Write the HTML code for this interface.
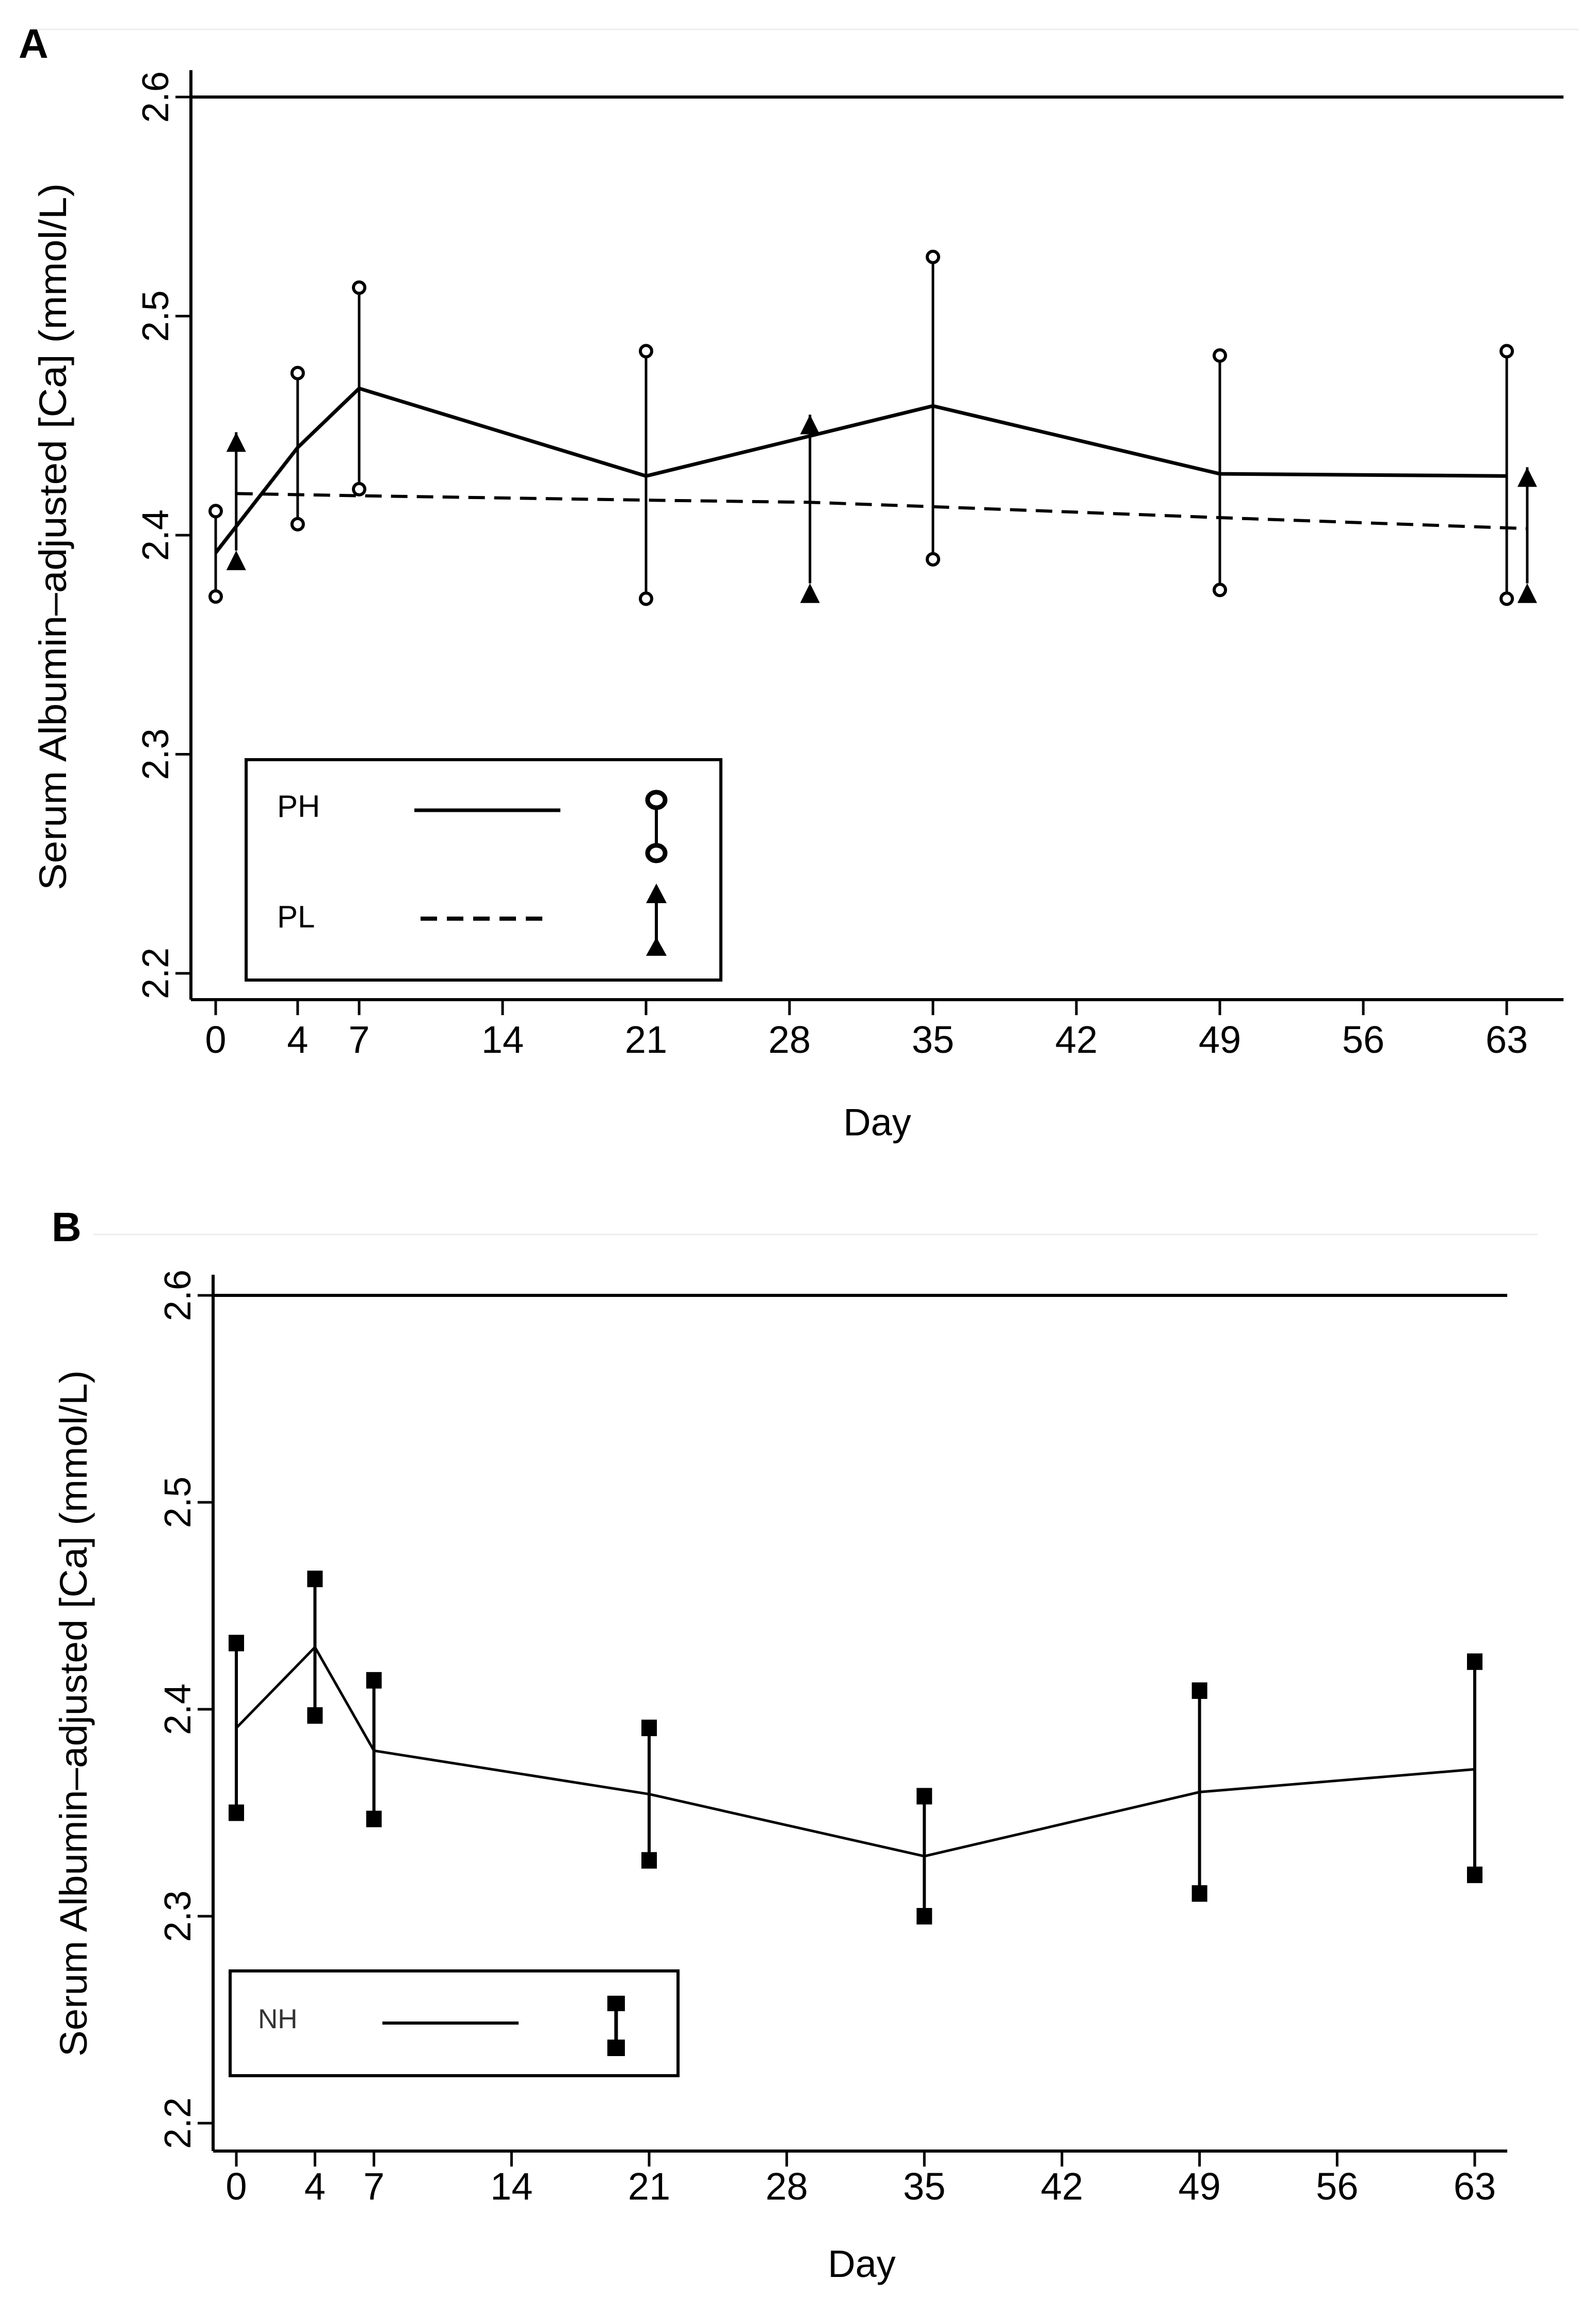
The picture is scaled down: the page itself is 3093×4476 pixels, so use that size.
<!DOCTYPE html>
<html><head><meta charset="utf-8"><style>
html,body{margin:0;padding:0;background:#fff}
svg{display:block;font-family:"Liberation Sans",Arial,sans-serif}
</style></head><body>
<svg id="c" width="3093" height="4476" viewBox="0 0 3093 4476" xmlns="http://www.w3.org/2000/svg">
<line x1="60" y1="57" x2="3060" y2="57" stroke="#eee" stroke-width="3"/>
<text x="36" y="112" font-size="80" font-weight="bold">A</text>
<line x1="180" y1="2392" x2="2980" y2="2392" stroke="#eee" stroke-width="3"/>
<text x="100" y="2405" font-size="80" font-weight="bold">B</text>
<g id="pa"></g>
<g id="pb"></g>
</svg>
<script>
const dayTicks=[0,4,7,14,21,28,35,42,49,56,63];
const yTicks=[2.2,2.3,2.4,2.5,2.6];
const refLine=2.6;
// Panel A
const phDays=[0,4,7,21,35,49,63];
const phMean=[2.392,2.440,2.467,2.427,2.459,2.428,2.427];
const phLow=[2.372,2.405,2.421,2.371,2.389,2.375,2.371];
const phHigh=[2.411,2.474,2.513,2.484,2.527,2.482,2.484];
const plDays=[1.0,7,21,29,35,49,64];
const plMean=[2.419,2.418,2.416,2.415,2.413,2.408,2.403];
const plBarDays=[1.0,29,64];
const plLow=[2.393,2.378,2.378];
const plHigh=[2.447,2.455,2.431];
// Panel B
const nhDays=[0,4,7,21,35,49,63];
const nhMean=[2.391,2.430,2.380,2.359,2.329,2.360,2.371];
const nhLow=[2.350,2.397,2.347,2.327,2.300,2.311,2.320];
const nhHigh=[2.432,2.463,2.414,2.391,2.358,2.409,2.423];

const NS='http://www.w3.org/2000/svg';
function mk(p,t,a){const e=document.createElementNS(NS,t);for(const k in a)e.setAttribute(k,a[k]);p.appendChild(e);return e;}

function panel(g,cfg){
  const X=d=>cfg.x0+(d)*(cfg.x63-cfg.x0)/63;
  const Y=v=>cfg.y22+(v-2.2)*(cfg.y26-cfg.y22)/0.4;
  let e;
  e=mk(g,'line',{x1:cfg.axL,y1:cfg.axTop,x2:cfg.axL,y2:cfg.axB,stroke:'#000','stroke-width':6});
  
  
  e=mk(g,'line',{x1:cfg.axL,y1:cfg.axB,x2:cfg.axR,y2:cfg.axB,stroke:'#000','stroke-width':6});
  
  
  yTicks.forEach(v=>{
    const y=Y(v);
    e=mk(g,'line',{x1:cfg.axL-30,y1:y,x2:cfg.axL,y2:y,stroke:'#000','stroke-width':5});
    
    
    e=mk(g,'text',{x:0,y:0,'font-size':72,'text-anchor':'middle',transform:`translate(${cfg.axL-44},${y}) rotate(-90)`});
    e.textContent=v.toFixed(1);
    
    
  });
  dayTicks.forEach(d=>{
    const x=X(d);
    e=mk(g,'line',{x1:x,y1:cfg.axB,x2:x,y2:cfg.axB+30,stroke:'#000','stroke-width':5});
    
    
    e=mk(g,'text',{x:x,y:cfg.tickY,'font-size':74,'text-anchor':'middle'});
    e.textContent=d;
    
    
  });
  e=mk(g,'text',{x:cfg.dayX,y:cfg.dayY,'font-size':74,'text-anchor':'middle'});
  e.textContent='Day';
  
  
  e=mk(g,'text',{x:0,y:0,'font-size':74,'text-anchor':'middle',textLength:cfg.titleLen,lengthAdjust:'spacingAndGlyphs',transform:`translate(${cfg.titleX},${cfg.titleY}) rotate(-90)`});
  e.textContent='Serum Albumin\u2013adjusted [Ca] (mmol/L)';
  
  
  e=mk(g,'line',{x1:cfg.axL,y1:Y(refLine),x2:cfg.axR,y2:Y(refLine),stroke:'#000','stroke-width':6});
  
  
  return {X,Y};
}

// Panel A
(function(){
  const g=document.getElementById('pa');
  const {X,Y}=panel(g,{x0:418,x63:2920,y22:1886,y26:188,axL:370,axR:3030,axTop:136,axB:1937,tickY:2040,dayX:1700,dayY:2200,titleX:128,titleY:1040,titleLen:1370});
  let e;
  e=mk(g,'polyline',{points:plDays.map((d,i)=>X(d)+','+Y(plMean[i])).join(' '),fill:'none',stroke:'#000','stroke-width':6,'stroke-dasharray':'32,18'});
  
  
  e=mk(g,'polyline',{points:phDays.map((d,i)=>X(d)+','+Y(phMean[i])).join(' '),fill:'none',stroke:'#000','stroke-width':7});
  
  
  phDays.forEach((d,i)=>{
    const x=X(d);
    e=mk(g,'line',{x1:x,y1:Y(phLow[i]),x2:x,y2:Y(phHigh[i]),stroke:'#000','stroke-width':5});
    
    
    [phLow[i],phHigh[i]].forEach(v=>{
      e=mk(g,'circle',{cx:x,cy:Y(v),r:11,fill:'#fff',stroke:'#000','stroke-width':6});
      
      
    });
  });
  plBarDays.forEach((d,i)=>{
    const x=X(d);
    e=mk(g,'line',{x1:x,y1:Y(plLow[i]),x2:x,y2:Y(plHigh[i]),stroke:'#000','stroke-width':5});
    
    
    [plLow[i],plHigh[i]].forEach(v=>{
      const y=Y(v);
      e=mk(g,'polygon',{points:`${x},${y} ${x-19},${y+38} ${x+19},${y+38}`,fill:'#000'});
      
      
    });
  });
  const lg=mk(g,'g',{});
  
  
  mk(lg,'rect',{x:477,y:1472,width:920,height:427,fill:'#fff',stroke:'#000','stroke-width':6});
  e=mk(lg,'text',{x:537,y:1583,'font-size':60});e.textContent='PH';
  
  
  mk(lg,'line',{x1:803,y1:1570,x2:1086,y2:1570,stroke:'#000','stroke-width':7});
  mk(lg,'line',{x1:1272,y1:1550,x2:1272,y2:1653,stroke:'#000','stroke-width':6});
  mk(lg,'ellipse',{cx:1272,cy:1550,rx:17,ry:15,fill:'#fff',stroke:'#000','stroke-width':9});
  mk(lg,'ellipse',{cx:1272,cy:1653,rx:17,ry:15,fill:'#fff',stroke:'#000','stroke-width':9});
  e=mk(lg,'text',{x:537,y:1797,'font-size':60});e.textContent='PL';
  
  
  mk(lg,'line',{x1:815,y1:1780,x2:1060,y2:1780,stroke:'#000','stroke-width':8,'stroke-dasharray':'32,19'});
  mk(lg,'line',{x1:1272,y1:1730,x2:1272,y2:1840,stroke:'#000','stroke-width':6});
  mk(lg,'polygon',{points:'1272,1712 1252,1750 1292,1750',fill:'#000'});
  mk(lg,'polygon',{points:'1272,1816 1252,1852 1292,1852',fill:'#000'});
})();

// Panel B
(function(){
  const g=document.getElementById('pb');
  const {X,Y}=panel(g,{x0:458,x63:2858,y22:4114,y26:2510,axL:413,axR:2921,axTop:2470,axB:4168,tickY:4262,dayX:1670,dayY:4412,titleX:168,titleY:3320,titleLen:1330});
  let e;
  e=mk(g,'polyline',{points:nhDays.map((d,i)=>X(d)+','+Y(nhMean[i])).join(' '),fill:'none',stroke:'#000','stroke-width':5});
  
  
  nhDays.forEach((d,i)=>{
    const x=X(d);
    e=mk(g,'line',{x1:x,y1:Y(nhLow[i]),x2:x,y2:Y(nhHigh[i]),stroke:'#000','stroke-width':6});
    
    
    [nhLow[i],nhHigh[i]].forEach(v=>{
      e=mk(g,'rect',{x:x-15,y:Y(v)-16,width:30,height:32,fill:'#000'});
      
      
    });
  });
  const lg=mk(g,'g',{});
  
  
  mk(lg,'rect',{x:446,y:3819,width:868,height:203,fill:'#fff',stroke:'#000','stroke-width':6});
  e=mk(lg,'text',{x:500,y:3930,'font-size':53,fill:'#333'});e.textContent='NH';
  
  
  mk(lg,'line',{x1:741,y1:3920,x2:1005,y2:3920,stroke:'#000','stroke-width':6});
  mk(lg,'line',{x1:1194,y1:3880,x2:1194,y2:3970,stroke:'#000','stroke-width':7});
  mk(lg,'rect',{x:1177,y:3867,width:34,height:30,fill:'#000'});
  mk(lg,'rect',{x:1177,y:3952,width:34,height:32,fill:'#000'});
})();
</script>
</body></html>
